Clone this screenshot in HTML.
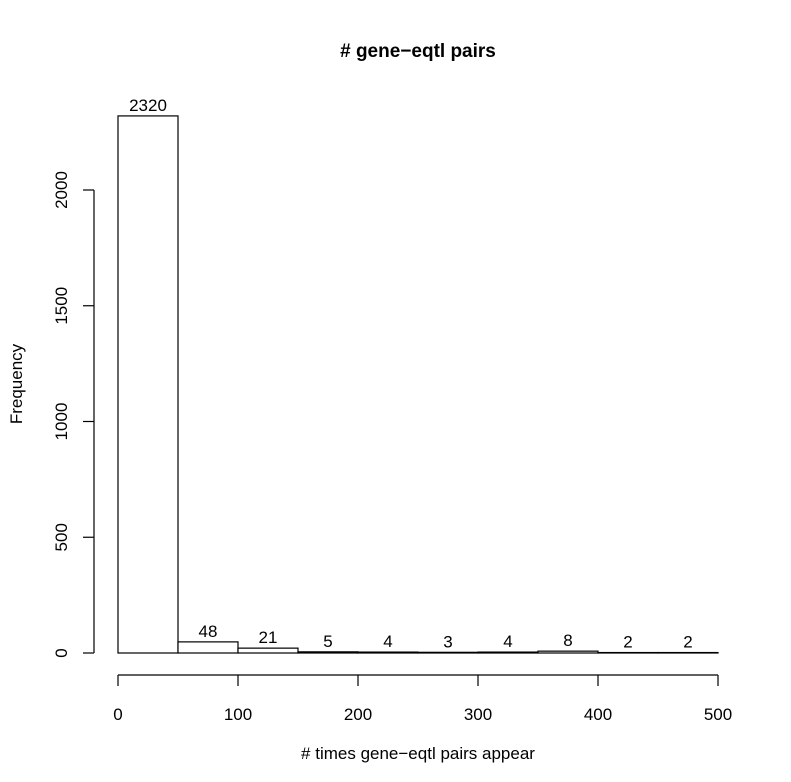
<!DOCTYPE html>
<html><head><meta charset="utf-8"><style>body{margin:0;background:#fff}svg{display:block;font-family:"Liberation Sans",Arial,sans-serif}</style></head>
<body>
<svg id="c" width="791" height="782" viewBox="0 0 791 782">
<rect width="791" height="782" fill="#fff"/>
<text x="418" y="57" font-size="19" font-weight="bold" text-anchor="middle"># gene−eqtl pairs</text>
<text x="418" y="759" font-size="17" text-anchor="middle"># times gene−eqtl pairs appear</text>
<text transform="translate(22,384) rotate(-90)" font-size="17" text-anchor="middle">Frequency</text>
<g id="bars"></g><g id="xa"></g><g id="ya"></g>
</svg>
<script>
const binStarts=[0,50,100,150,200,250,300,350,400,450];
const counts=[2320,48,21,5,4,3,4,8,2,2];
const xTicks=[0,100,200,300,400,500];
const yTicks=[0,500,1000,1500,2000];
const NS="http://www.w3.org/2000/svg";
const X=v=>118+v*(718-118)/500;
const Y=v=>653-v*(653-190)/2000;
function mk(t,a,p){const e=document.createElementNS(NS,t);for(const k in a)e.setAttribute(k,a[k]);p.appendChild(e);return e;}
const bars=document.getElementById('bars');
binStarts.forEach((b,i)=>{
 const r=mk('rect',{x:X(b),y:Y(counts[i]),width:X(b+50)-X(b),height:Y(0)-Y(counts[i]),fill:'#fff',stroke:'#000','stroke-width':1.2},bars);
 
 
 const t=mk('text',{x:X(b+25),y:Y(counts[i])-5,'font-size':17,'text-anchor':'middle'},bars);
 t.textContent=counts[i];
 
 
});
const xa=document.getElementById('xa');


mk('line',{x1:X(0),x2:X(500),y1:675,y2:675,stroke:'#000','stroke-width':1.2},xa);
xTicks.forEach(v=>{
 mk('line',{x1:X(v),x2:X(v),y1:675,y2:686,stroke:'#000','stroke-width':1.2},xa);
 const t=mk('text',{x:X(v),y:720,'font-size':17,'text-anchor':'middle'},xa);
 t.textContent=v;
 
 
});
const ya=document.getElementById('ya');


mk('line',{x1:94,x2:94,y1:Y(0),y2:Y(2000),stroke:'#000','stroke-width':1.2},ya);
yTicks.forEach(v=>{
 mk('line',{x1:83,x2:94,y1:Y(v),y2:Y(v),stroke:'#000','stroke-width':1.2},ya);
 const t=mk('text',{transform:`translate(67,${Y(v)}) rotate(-90)`,'font-size':17,'text-anchor':'middle'},ya);
 t.textContent=v;
 
 
});
</script>
</body></html>
